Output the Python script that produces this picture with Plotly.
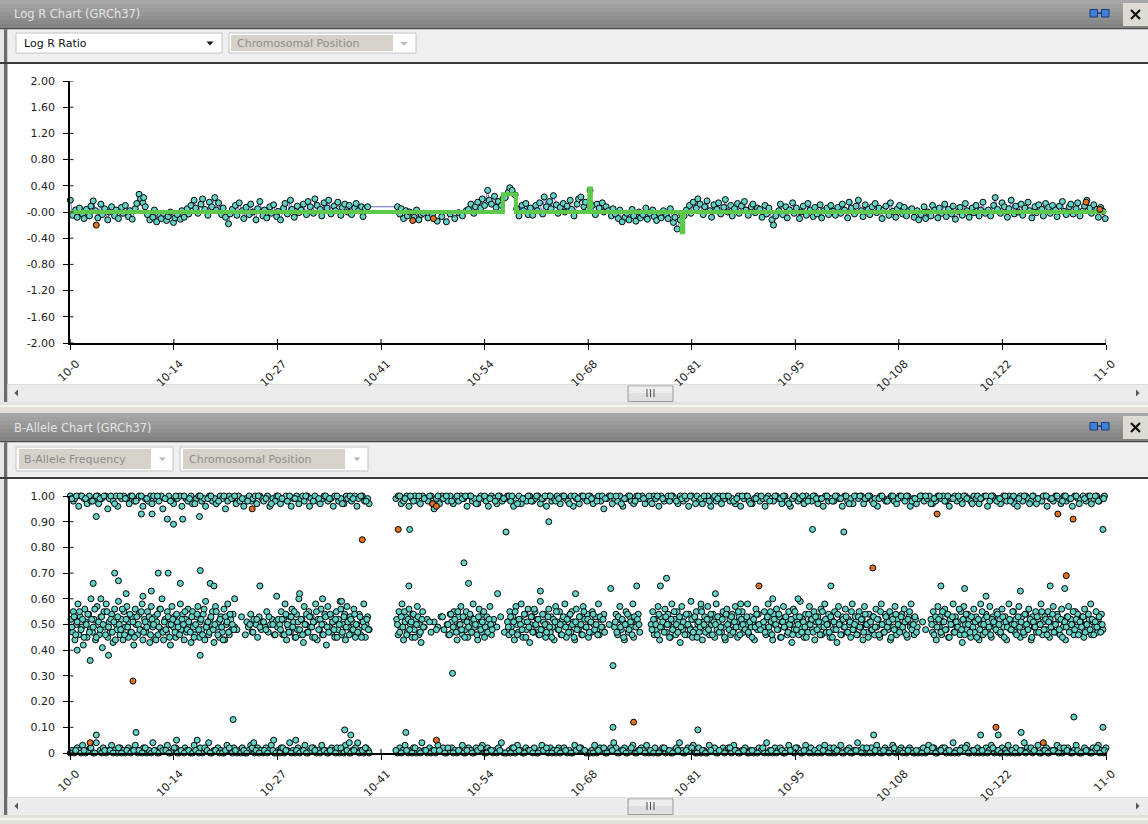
import plotly.graph_objects as go

W, H = 1148, 824

# ---------------- axis ticks ----------------
tick_mb = [0, 13.55, 27.1, 40.65, 54.2, 67.75, 81.3, 94.85, 108.4, 121.95, 135.5]
tick_labels = ["10-0", "10-14", "10-27", "10-41", "10-54", "10-68", "10-81",
               "10-95", "10-108", "10-122", "11-0"]
logr_ticks = [2.0, 1.6, 1.2, 0.8, 0.4, 0.0, -0.4, -0.8, -1.2, -1.6, -2.0]
logr_tick_text = ["2.00", "1.60", "1.20", "0.80", "0.40", "-0.00", "-0.40",
                  "-0.80", "-1.20", "-1.60", "-2.00"]
baf_ticks = [1.0, 0.9, 0.8, 0.7, 0.6, 0.5, 0.4, 0.3, 0.2, 0.1, 0.0]
baf_tick_text = ["1.00", "0.90", "0.80", "0.70", "0.60", "0.50", "0.40",
                 "0.30", "0.20", "0.10", "0"]

# ---------------- Log R data (position: 0.1 Mb units, value: 1/100) ----------------
logr_pos = [
    0,3,7,9,12,16,18,21,25,27,30,33,36,40,42,45,49,51,54,58,60,63,67,69,72,76,78,81,85,87,90,92,95,96,98,
    101,104,108,110,113,117,119,122,126,128,131,135,137,140,144,146,149,153,155,158,162,164,167,171,173,176,180,182,185,189,191,194,198,
    200,203,207,209,212,216,218,221,225,227,230,234,236,239,243,245,248,252,254,257,261,263,266,270,272,275,279,281,284,288,290,293,297,299,
    302,305,309,311,314,318,320,323,327,329,332,336,338,341,345,347,350,354,356,359,363,365,368,372,374,377,381,383,386,389,
    428,431,433,436,439,441,444,450,453,456,459,462,468,474,480,486,492,497,503,508,513,518,
    521,524,528,530,533,537,539,542,546,548,551,555,557,560,564,566,569,573,575,578,582,584,587,591,593,596,599,
    602,605,609,611,614,618,620,623,627,629,632,636,638,641,645,647,650,654,656,659,663,665,668,672,674,677,680,683,687,689,692,696,698,
    701,704,708,710,713,717,719,722,726,728,731,735,737,740,744,746,749,753,755,758,762,764,767,771,773,776,780,782,785,789,791,794,798,800,
    803,806,810,812,815,819,821,824,828,830,833,837,839,842,846,848,851,855,857,860,864,866,869,873,875,878,882,884,887,891,893,896,899,
    902,905,909,911,914,918,920,923,927,929,932,936,938,941,945,947,950,954,956,959,963,965,968,972,974,977,981,983,986,990,992,995,998,
    1001,1004,1008,1010,1013,1017,1019,1022,1026,1028,1031,1035,1037,1040,1044,1046,1049,1053,1055,1058,1062,1064,1067,1071,1073,1076,1080,1082,1085,1089,1091,1094,1097,
    1101,1104,1108,1110,1113,1117,1119,1122,1126,1128,1131,1135,1137,1140,1144,1146,1149,1153,1155,1158,1162,1164,1167,1171,1173,1176,1180,1182,1185,1189,1191,1194,1197,
    1201,1204,1208,1210,1213,1217,1219,1222,1226,1228,1231,1235,1237,1240,1244,1246,1249,1253,1255,1258,
    1262,1264,1267,1271,1273,1276,1280,1282,1285,1289,1291,1294,1298,1300,1303,1307,1309,1312,1316,1318,
    1321,1325,1327,1330,1334,1336,1339,1343,1345,1348,1351,1354,
]
logr_val = [
    18,-5,3,-8,6,-3,-10,4,-6,9,17,2,-9,12,-4,5,-12,0,8,-6,3,-10,7,-2,10,-7,2,-11,5,13,27,20,14,22,8,
    -4,-12,-8,3,-15,-6,-10,-2,-13,-7,0,-16,-9,-4,-11,2,-8,5,-3,10,18,6,-2,12,20,4,-5,15,8,22,3,14,-4,
    6,-8,-18,-3,4,10,-5,14,2,-10,7,-4,12,0,-12,5,16,-6,3,-9,8,-2,11,-7,1,-12,6,13,-3,18,4,-8,9,-1,
    3,12,-4,16,8,-2,20,10,4,-6,14,6,18,-3,9,2,15,-5,7,12,0,10,-4,6,13,2,8,-7,5,8,
    8,-3,5,-10,2,-6,0,-8,3,-12,-4,-2,-9,-5,-14,-7,-15,-3,-10,-1,-6,2,
    4,12,-2,8,15,6,20,10,33,18,12,24,7,16,10,20,22,30,37,33,26,5,-6,10,2,13,-4,
    6,-5,10,2,14,-3,23,8,16,5,25,11,-2,7,13,0,9,18,4,-6,12,20,23,8,15,3,33,10,-4,12,6,14,0,
    8,2,-6,5,-3,-10,3,-15,-8,-2,-12,4,-6,-14,0,-9,-4,6,-11,-2,3,-7,-13,-3,-9,2,-5,-10,5,-16,-8,-26,-12,-4,
    -6,3,10,-2,15,6,20,12,-4,8,17,2,-8,11,4,14,-3,7,19,0,10,-6,5,13,-2,9,16,3,-5,8,12,-1,6,
    4,-8,10,-3,6,-12,-20,-6,2,12,-4,8,-9,3,14,-2,6,-10,0,9,-5,13,3,-7,7,-3,11,-9,2,6,-4,10,1,
    -5,7,-2,12,3,-9,15,6,-3,9,18,2,-7,11,4,-4,8,13,-1,6,-10,3,9,-5,14,1,-8,5,10,-3,7,-6,2,
    5,-8,2,-12,-4,8,-10,0,-6,10,3,-9,6,-2,12,-7,4,-3,9,-11,1,7,-5,13,2,-8,6,-1,10,-6,3,15,-2,
    3,-6,10,22,4,-2,14,8,-8,5,18,-3,9,0,12,-5,6,15,2,-9,
    8,-1,11,4,-6,13,7,-2,10,3,-7,9,16,1,-4,8,12,-3,5,14,
    -6,2,9,18,6,-2,11,4,-8,7,1,-10,
]
logr_orange_pos = [34, 448, 475, 1329, 1347]
logr_orange_val = [-20, -13, -10, 15, 4]

# segmentation (green line), Mb
seg_start_mb = [0.0, 56.6, 58.3, 67.9, 68.1, 80.0, 80.2]
seg_mean = [0.0, 0.27, 0.0, 0.36, 0.0, -0.31, 0.0]
chrom_end_mb = 135.5

# ---------------- B-allele data (position: 0.1 Mb units, value: 1/100) ----------------
top_pos = [
    0,4,6,11,13,18,22,25,27,32, 36,37,41,46,49,51,56,60,62,67, 70,74,77,79,84,88,90,95,98,102,
    105,107,112,116,119,121,126,129,133,135, 140,144,146,151,154,158,160,165,168,172,
    175,177,182,186,189,191,196,199,203,206, 208,213,217,220,222,227,230,234,237,239,
    244,248,251,253,258,261,265,268,270,275, 279,282,284,289,292,296,299,301,306,310,
    313,315,320,323,327,330,332,337,341,344, 346,351,354,358,361,363,368,372,375,377, 382,385,389,391,
    426,429,433,436,440,443,447,451,454,458, 461,465,468,472,476,479,483,486,490,494,
    497,501,504,508,511,515,519,522,526,529, 533,537,540,544,547,551,554,558,562,565,
    569,572,576,580,583,587,590,594,597,601, 605,608,612,615,619,623,626,630,633,637,
    641,644,648,651,655,658,662,666,669,673, 676,680,684,687,691,694,698,702,705,709,
    712,716,719,723,727,730,734,737,741,745, 748,752,755,759,763,766,770,773,777,780,
    784,788,791,795,798,802,806,809,813,816, 820,823,827,831,834,838,841,845,849,852,
    856,859,863,866,870,874,877,881,884,888, 892,895,899,902,906,909,913,917,920,924,
    927,931,935,938,942,945,949,952,956,960, 963,967,970,974,978,981,985,988,992,995,
    999,1003,1006,1010,1013,1017,1021,1024,1028,1031, 1035,1038,1042,1046,1049,1053,1056,1060,1064,1067,
    1071,1074,1078,1081,1085,1089,1092,1096,1099,1103, 1107,1110,1114,1117,1121,1124,1128,1132,1135,1139,
    1142,1146,1150,1153,1157,1160,1164,1167,1171,1175, 1178,1182,1185,1189,1192,1196,1200,1203,1207,1210,
    1214,1217,1221,1225,1228,1232,1235,1239,1243,1246, 1250,1253,1257,1260,1264,1268,1271,1275,1278,1282,
    1286,1289,1293,1296,1300,1303,1307,1311,1314,1318, 1321,1325,1329,1332,1336,1339,1343,1346,1350,1353,
]
top_val = [
    100,98,99,96,100,99,97,100,98,99, 100,97,99,100,95,99,98,100,96,99, 100,99,97,100,98,99,100,96,99,98,
    100,97,99,98,100,95,99,100,98,97, 99,100,96,99,98,100,97,99,100,98,
    99,96,100,98,99,97,100,99,95,98, 100,99,97,100,98,96,99,100,98,99,
    97,100,99,98,100,96,99,98,100,97, 99,100,98,96,99,100,97,99,98,100,
    96,99,100,98,97,99,100,98,99,96, 100,98,99,97,100,99,98,100,96,99, 100,98,99,97,
    99,100,97,98,100,96,99,100,98,97, 100,99,98,100,95,99,97,100,99,98,
    100,97,99,98,100,99,96,100,98,99, 97,100,99,98,96,100,99,97,100,98,
    99,100,98,96,99,100,97,99,98,100, 98,99,100,97,99,96,100,98,99,100,
    97,100,99,98,100,96,99,97,100,99, 98,100,97,99,100,98,95,99,100,97,
    99,98,100,96,99,100,98,97,100,99, 100,97,99,98,100,99,96,100,98,99,
    98,100,99,97,100,98,99,96,100,99, 100,98,97,99,100,96,99,98,100,97,
    99,100,98,99,97,100,96,99,100,98, 97,99,100,98,99,96,100,99,98,100,
    99,97,100,98,96,99,100,98,99,97, 100,99,98,100,97,99,96,100,98,99,
    98,100,99,96,100,98,99,97,100,99, 100,97,99,100,98,99,96,100,99,98,
    99,100,98,97,100,99,98,100,96,99, 97,99,100,98,99,100,97,98,100,99,
    100,98,96,99,100,98,99,97,100,99, 98,100,99,97,99,100,96,98,100,99,
    99,97,100,98,100,99,97,96,100,98, 100,99,98,100,97,99,98,100,96,99,
    98,100,99,97,100,98,99,96,100,99, 99,100,98,100,97,99,100,98,99,100,
]
top2_pos = [
    2,8,15,20,29,34,39,44,53,58, 65,72,81,86,93,100,109,114,124,131,
    138,149,156,163,170,180,184,194,201,211, 215,225,232,242,246,256,263,272,277,287,
    294,304,308,318,325,334,339,349,356,366, 370,380,387,
    431,438,445,449,456,463,470,474,481,488, 492,499,506,513,517,524,531,535,542,549,
    556,560,567,574,578,585,592,599,603,610, 617,621,628,635,639,646,653,660,664,671,
    678,682,689,696,700,707,714,721,725,732, 739,743,750,757,761,768,775,782,786,793,
    800,804,811,818,825,829,836,843,847,854, 861,868,872,879,886,890,897,904,911,915,
    922,929,933,940,947,954,958,965,972,976, 983,990,997,1001,1008,1015,1019,1026,1033,1040,
    1044,1051,1058,1062,1069,1076,1083,1087,1094,1101, 1105,1112,1119,1126,1130,1137,1144,1148,1155,1162,
    1169,1173,1180,1187,1191,1198,1205,1212,1216,1223, 1230,1234,1241,1248,1255,1259,1266,1273,1277,1284,
    1291,1298,1302,1309,1316,1320,1327,1334,1341,1345, 1352,
]
top2_val = [
    99,100,100,99,98,100,99,100,100,97, 100,99,100,98,100,99,100,100,99,98,
    100,100,99,97,100,99,100,98,100,99, 100,99,98,100,100,99,97,100,99,100,
    99,100,100,98,99,100,99,100,97,100, 99,100,98,
    100,99,100,98,100,99,100,97,100,99, 100,98,100,99,100,100,97,99,100,99,
    98,100,99,100,100,97,99,100,98,100, 99,100,100,98,99,100,97,100,99,100,
    100,99,98,100,99,100,100,97,99,100, 98,100,99,100,97,100,99,100,100,98,
    99,100,100,97,99,100,98,100,99,100, 100,98,99,100,100,97,99,100,99,98,
    100,99,100,97,100,99,100,98,100,99, 99,100,98,100,99,100,97,100,100,99,
    100,97,99,100,98,100,99,100,100,98, 99,100,100,97,99,100,98,100,99,100,
    100,99,97,100,99,100,100,98,99,100, 98,100,99,100,97,100,99,100,100,99,
    100,98,100,99,100,97,99,100,100,98, 99,
]
low_pos = [
    2,5,9,12,16,20,23,26,30,34, 39,43,47,50,54,58,61,65,69,72, 76,81,85,88,92,96,100,103,108,111,
    114,118,123,127,131,134,138,142,147,150, 153,157,162,166,170,173,178,181,185,188,
    193,197,201,205,210,214,218,221,225,229, 233,236,241,245,249,252,256,260,263,267,
    272,276,280,284,287,291,294,298,303,307, 311,314,318,322,325,329,334,338,342,345,
    349,352,356,360,365,369,373,376,380,384, 387,390,
    428,431,435,438,442,445,449,453,456,460, 463,467,470,474,478,481,485,488,492,496,
    499,503,506,510,513,517,521,524,528,531, 535,539,542,546,549,553,556,560,564,567,
    571,574,578,582,585,589,592,596,599,603, 607,610,614,617,621,625,628,632,635,639,
    643,646,650,653,657,660,664,668,671,675, 678,682,686,689,693,696,700,704,707,711,
    714,718,721,725,729,732,736,739,743,747, 750,754,757,761,765,768,772,775,779,782,
    786,790,793,797,800,804,808,811,815,818, 822,825,829,833,836,840,843,847,851,854,
    858,861,865,868,872,876,879,883,886,890, 894,897,901,904,908,911,915,919,922,926,
    929,933,937,940,944,947,951,954,958,962, 965,969,972,976,980,983,987,990,994,997,
    1001,1005,1008,1012,1015,1019,1023,1026,1030,1033, 1037,1040,1044,1048,1051,1055,1058,1062,1066,1069,
    1073,1076,1080,1083,1087,1091,1094,1098,1101,1105, 1109,1112,1116,1119,1123,1126,1130,1134,1137,1141,
    1144,1148,1152,1155,1159,1162,1166,1169,1173,1177, 1180,1184,1187,1191,1194,1198,1202,1205,1209,1212,
    1216,1219,1223,1227,1230,1234,1237,1241,1245,1248, 1252,1255,1259,1262,1266,1270,1273,1277,1280,1284,
    1288,1291,1295,1298,1302,1305,1309,1313,1316,1320, 1323,1327,1331,1334,1338,1341,1345,1348,1352,1355,
]
low_val = [
    1,0,2,1,3,0,1,2,0,4, 1,2,0,1,3,1,0,2,1,0, 2,1,3,0,1,2,0,1,4,1,
    0,2,1,3,0,1,2,0,1,2, 1,0,3,1,2,0,1,4,0,1,
    2,1,0,3,1,2,0,1,2,0, 1,3,0,2,1,0,2,1,3,0,
    1,2,0,1,4,1,0,2,1,3, 0,1,2,0,1,3,1,0,2,1,
    2,0,1,3,0,1,2,4,1,0, 2,1,
    0,2,1,3,0,1,2,0,1,4, 1,0,2,1,0,3,1,2,0,1,
    2,1,0,1,3,0,2,1,0,2, 1,3,0,2,1,0,1,2,4,0,
    0,1,2,0,3,1,0,2,1,1, 2,0,1,3,1,0,2,1,0,2,
    1,2,0,1,0,3,1,2,1,0, 0,1,3,0,2,1,0,1,2,4,
    2,0,1,2,0,1,3,0,1,2, 1,3,0,1,2,0,1,2,0,1,
    0,1,2,4,1,0,2,1,3,0, 2,0,1,0,3,1,2,0,1,2,
    1,2,0,3,1,0,1,2,0,1, 0,1,2,1,0,4,1,0,2,1,
    2,0,1,3,1,0,2,1,0,3, 1,2,0,1,2,0,3,1,2,0,
    0,1,3,0,1,2,0,1,4,1, 2,0,1,2,0,3,1,0,2,1,
    1,3,0,1,2,1,0,2,1,0, 0,1,2,0,3,1,2,0,1,2,
    2,1,0,4,1,0,2,1,3,0, 1,0,2,1,0,2,1,3,0,1,
    0,2,1,3,0,1,2,0,1,4, 2,1,0,1,3,0,1,2,0,1,
    1,3,2,0,1,2,0,1,3,0, 0,2,1,0,2,1,3,1,0,2,
]
low2_pos = [
    0,7,14,18,27,32,41,45,52,56, 63,67,74,79,83,90,94,98,106,110,
    116,121,125,129,136,140,145,149,155,160, 164,168,176,179,183,190,195,199,203,208,
    212,216,223,227,231,238,243,247,254,258, 265,269,274,278,282,289,296,300,305,309,
    316,320,327,332,336,340,347,354,358,362, 367,371,378,382,386,391,
    426,433,440,447,451,458,465,472,476,483, 490,494,501,508,515,519,526,533,537,544,
    551,558,562,569,576,580,587,594,601,605, 612,619,623,630,637,641,648,655,662,666,
    673,680,684,691,698,702,709,716,723,727, 734,741,745,752,759,763,770,777,784,788,
    795,802,806,813,820,827,831,838,845,849, 856,863,870,874,881,888,892,899,906,913,
    917,924,931,935,942,949,956,960,967,974, 978,985,992,999,1003,1010,1017,1021,1028,1035,
    1042,1046,1053,1060,1064,1071,1078,1085,1089,1096, 1103,1107,1114,1121,1128,1132,1139,1146,1150,1157,
    1164,1171,1175,1182,1189,1193,1200,1207,1214,1218, 1225,1232,1236,1243,1250,1257,1261,1268,1275,1279,
    1286,1293,1300,1304,1311,1318,1322,1329,1336,1343, 1347,1353,
]
low2_val = [
    0,1,0,1,2,0,0,1,1,0, 2,0,1,0,1,1,0,2,0,1,
    0,1,1,0,2,0,1,0,1,0, 1,0,2,1,0,1,0,0,1,2,
    0,1,0,1,0,2,1,0,1,0, 1,0,0,2,1,0,1,0,1,0,
    2,1,0,1,0,1,0,2,0,1, 0,1,0,1,2,0,
    1,0,1,0,2,0,1,0,1,1, 0,2,0,1,0,1,0,1,2,0,
    1,0,1,0,0,2,1,0,1,0, 0,1,2,0,1,0,1,0,1,2,
    1,0,0,1,2,0,1,0,1,0, 2,0,1,0,1,0,0,2,1,0,
    1,0,1,2,0,1,0,1,0,1, 0,2,1,0,1,0,1,0,2,0,
    1,0,1,0,1,2,0,1,0,1, 0,1,0,2,1,0,1,0,1,0,
    2,0,1,0,1,0,2,1,0,1, 0,1,0,1,2,0,1,0,1,0,
    1,2,0,1,0,1,0,2,1,0, 0,1,0,1,0,2,1,0,1,0,
    1,0,2,1,0,1,0,1,0,2, 0,1,
]
mid_pos = [
    1,3,4,6,8,10,11,13,15,17, 19,20,22,24,26,27,29,31,33,35, 36,38,40,42,44,45,47,49,51,52,
    54,56,58,60,61,63,65,67,69,70, 72,74,76,77,79,81,83,85,86,88, 90,92,94,95,97,99,101,102,104,106,
    108,110,111,113,115,117,119,120,122,124, 126,127,129,131,133,135,136,138,140,142,
    144,145,147,149,151,152,154,156,158,160, 161,163,165,167,169,170,172,174,176,177,
    179,181,183,185,186,188,190,192,194,195, 197,199,201,202,204,206,208,210,211,213, 215,
    218,224,229,231,233,236,238,240,243,245, 247,250,252,255,257,259,262,264,267,269, 271,
    274,276,278,279,281,283,285,287,288,290, 292,294,296,297,299,301,303,305,306,308,
    310,312,314,315,317,319,321,323,324,326, 328,330,332,333,335,337,339,341,342,344,
    346,348,350,351,353,355,357,359,360,362, 364,366,368,369,371,373,375,377,378,380,
    382,384,386,387,389,391,
    427,429,430,432,434,436,438,439,441,443, 445,447,448,450,452,454,456,457,459,461,
    463,467,472,476,481,485,489,493,495,497, 499,500,502,504,506,508,509,511,513,515,
    517,518,520,522,524,526,527,529,531,533, 535,536,538,540,542,544,545,547,549,551, 553,554,
    558,563,568,
    572,574,575,577,579,581,583,584,586,588, 590,592,593,595,597,599,601,602,604,606,
    608,610,611,613,615,617,619,620,622,624, 626,628,629,631,633,635,637,638,640,642,
    644,646,647,649,651,653,655,656,658,660, 662,664,665,667,669,671,673,674,676,678,
    680,682,683,685,687,689,691,692,694,696, 698,
    705,
    712,714,716,718,719,721,723,725,727,728, 730,732,734,736,737,739,741,743,745,
    760,762,764,765,767,769,771,773,774,776, 778,780,782,783,785,787,789,791,792,794,
    796,798,800,801,803,805,807,809,810,812, 814,816,818,819,821,823,825,827,828,830,
    832,834,836,837,839,841,843,845,846,848, 850,852,854,855,857,859,861,863,864,866,
    868,870,872,873,875,877,879,881,882,884, 886,888,890,891,893,895,897,899,900,902,
    906,908,910,911,913,915,917,919,920,922, 924,926,928,929,931,933,935,937,938,940,
    942,944,946,947,949,951,953,955,956,958, 960,962,964,965,967,969,971,973,974,976,
    978,980,982,983,985,987,989,991,992,994, 996,998,1000,1001,1003,1005,1007,1009,1010,1012,
    1014,1016,1018,1019,1021,1023,1025,1027,1028,1030, 1032,1034,1036,1037,1039,1041,1043,1045,1046,1048,
    1050,1052,1054,1055,1057,1059,1061,1063,1064,1066, 1068,1070,1072,1073,1075,1077,1079,1081,1082,1084,
    1086,1088,1090,1091,1093,1095,1097,1099,1100,1102, 1104,1106,1108,
    1115,1119,
    1126,1128,1129,1131,1133,1135,1137,1138,1140,1142, 1144,1146,1147,1149,1151,1153,1155,1156,1158,1160,
    1162,1164,1165,1167,1169,1171,1173,1174,1176,1178, 1180,1182,1183,1185,1187,1189,1191,1192,1194,1196,
    1198,1200,1201,1203,1205,1207,1209,1210,1212,1214, 1216,1218,1219,1221,1223,1225,1227,1228,1230,1232,
    1234,1236,1237,1239,1241,1243,1245,1246,1248,1250, 1252,1254,1255,1257,1259,1261,1263,1264,1266,1268,
    1270,1272,1273,1275,1277,1279,1281,1282,1284,1286, 1288,1290,1291,1293,1295,1297,1299,1300,1302,1304,
    1306,1308,1309,1311,1313,1315,1317,1318,1320,1322, 1324,1326,1327,1329,1331,1333,1335,1336,1338,1340,
    1342,1344,1345,1347,1349,1351,
]
mid_val = [
    52,47,55,44,50,58,46,53,49,42, 56,51,45,54,48,60,47,52,44,57, 50,46,53,41,55,49,58,45,51,47,
    54,43,56,50,48,59,46,52,44,55, 49,57,45,51,47,53,42,56,50,46, 54,48,58,44,52,47,55,50,43,57,
    49,45,53,51,46,56,48,60,44,52, 47,55,50,42,57,49,53,45,51,46,
    58,48,54,44,52,47,56,50,43,55, 49,46,53,57,45,51,48,54,44,59,
    50,46,52,48,55,43,57,49,51,45, 53,47,56,44,50,58,46,52,48,54, 49,
    48,53,46,51,49,54,47,52,50,45, 53,48,51,49,55,47,50,52,46,51, 49,
    50,55,46,52,58,44,49,53,47,56, 51,45,54,48,60,46,52,43,57,50,
    47,55,49,53,45,51,58,44,52,48, 56,46,50,54,42,57,49,53,47,51,
    45,55,48,52,59,46,50,54,44,57, 49,53,47,51,56,45,50,48,54,46,
    52,58,45,50,53,48,
    52,46,55,49,58,44,51,53,47,56, 50,45,54,48,52,57,46,50,43,55,
    49,52,47,51,49,53,48,50,46,54, 51,47,55,49,44,53,50,57,46,52,
    48,55,45,51,53,47,58,49,52,44, 56,50,47,54,45,51,53,48,57,46, 50,52,
    49,53,47,
    51,46,55,49,53,44,57,50,47,52, 58,45,51,54,48,56,43,50,53,47,
    55,49,52,46,59,48,51,54,45,50, 56,47,53,49,44,57,51,48,55,46,
    52,50,58,45,53,49,47,55,51,44, 56,50,48,53,46,57,52,49,54,45,
    51,47,55,50,53,48,58,46,52,49, 54,
    50,
    49,54,46,52,57,48,51,44,55,50, 47,53,49,58,45,52,50,54,47,
    50,55,46,52,48,57,44,53,49,51, 56,47,54,50,45,58,49,52,46,55,
    51,43,57,48,53,50,46,54,49,59, 45,52,48,55,50,47,56,44,51,53,
    49,57,46,52,50,54,45,58,48,51, 53,47,55,49,44,56,50,52,46,54,
    48,57,51,45,53,49,55,47,52,50, 58,46,53,49,51,44,56,48,54,50,
    49,55,46,52,58,47,51,44,54,50, 56,48,53,45,51,57,49,52,46,55,
    50,43,56,48,53,51,46,59,49,52, 45,54,50,47,57,52,48,55,44,51,
    53,49,56,46,51,58,47,50,54,45, 52,48,55,50,43,57,51,46,53,49,
    56,47,52,50,45,58,48,53,51,46, 55,49,52,44,57,50,47,54,51,48,
    53,46,56,49,52,45,58,50,47,54, 51,48,55,44,53,49,57,46,52,50,
    48,54,47,56,51,45,53,49,58,50, 46,52,49,
    51,48,
    52,47,55,50,44,57,49,53,46,51, 56,48,54,45,52,50,58,47,53,49,
    51,46,55,43,57,50,48,54,52,45, 49,56,47,53,51,44,58,50,46,52,
    54,48,51,57,45,53,49,50,55,47, 52,46,56,49,53,44,51,58,48,50,
    55,47,52,49,57,45,53,50,46,54, 48,56,51,44,53,49,55,47,52,50,
    58,46,51,53,48,55,45,52,49,57, 50,47,54,52,46,56,49,51,44,53,
    57,48,52,50,46,55,49,54,47,51, 53,45,56,50,48,52,58,46,51,49,
    55,47,52,50,54,48,
]
mid2_pos = [
    2,5,7,9,12,14,16,18,21,23, 25,28,30,32,34,37,39,41,43,46, 48,50,53,55,57,59,62,64,66,68,
    71,73,75,78,80,82,84,87,89,91, 93,96,98,100,103,105,107,109,112,114, 116,118,121,123,125,128,130,132,134,137,
    139,141,143,146,148,150,153,155,157,159, 162,164,166,168,171,173,175,178,180,182,
    184,187,189,191,193,196,198,200,203,205, 207,209,212,214,
    235,239,244,248,253,256,260,265,268,272,
    275,277,280,282,284,286,289,291,293,295, 298,300,302,304,307,309,311,313,316,318,
    320,322,325,327,329,331,334,336,338,340, 343,345,347,349,352,354,356,358,361,363,
    365,367,370,372,374,376,379,381,383,385, 388,390,
    428,431,433,435,437,440,442,444,446,449, 451,453,455,458,460,462, 470,479,487,494,
    496,498,501,503,505,507,510,512,514,516, 519,521,523,525,528,530,532,534,537,539,
    541,543,546,548,550,552,
    573,576,578,580,582,585,587,589,591,594, 596,598,600,603,605,607,609,612,614,616,
    618,621,623,625,627,630,632,634,636,639, 641,643,645,648,650,652,654,657,659,661,
    663,666,668,670,672,675,677,679,681,684, 686,688,690,693,695,697,699,
    713,715,717,720,722,724,726,729,731,733, 735,738,740,742,744,
    761,763,766,768,770,772,775,777,779,781, 784,786,788,790,793,795,797,799,802,804,
    806,808,811,813,815,817,820,822,824,826, 829,831,833,835,838,840,842,844,847,849,
    851,853,856,858,860,862,865,867,869,871, 874,876,878,880,883,885,887,889,892,894,
    896,898,901,903,
    907,909,912,914,916,918,921,923,925,927, 930,932,934,936,939,941,943,945,948,950,
    952,954,957,959,961,963,966,968,970,972, 975,977,979,981,984,986,988,990,993,995,
    997,999,1002,1004,1006,1008,1011,1013,1015,1017, 1020,1022,1024,1026,1029,1031,1033,1035,1038,1040,
    1042,1044,1047,1049,1051,1053,1056,1058,1060,1062, 1065,1067,1069,1071,1074,1076,1078,1080,1083,1085,
    1087,1089,1092,1094,1096,1098,1101,1103,1105,1107,
    1127,1130,1132,1134,1136,1139,1141,1143,1145,1148, 1150,1152,1154,1157,1159,1161,1163,1166,1168,1170,
    1172,1175,1177,1179,1181,1184,1186,1188,1190,1193, 1195,1197,1199,1202,1204,1206,1208,1211,1213,1215,
    1217,1220,1222,1224,1226,1229,1231,1233,1235,1238, 1240,1242,1244,1247,1249,1251,1253,1256,1258,1260,
    1262,1265,1267,1269,1271,1274,1276,1278,1280,1283, 1285,1287,1289,1292,1294,1296,1298,1301,1303,1305,
    1307,1310,1312,1314,1316,1319,1321,1323,1325,1328, 1330,1332,1334,1337,1339,1341,1343,1346,1348,1350,
]
mid2_val = [
    49,53,46,51,55,48,52,45,50,54, 47,52,49,56,45,51,48,53,50,46, 55,49,52,47,51,44,53,50,48,56,
    46,52,49,54,47,51,45,53,50,48, 55,47,51,49,53,46,52,50,44,54, 49,56,47,51,48,53,45,50,52,47,
    54,49,46,52,50,55,48,51,47,53, 45,50,54,48,52,46,56,49,51,47,
    53,48,50,55,46,52,49,44,53,51, 47,54,50,48,
    50,47,52,49,51,48,53,50,46,52,
    48,52,46,54,50,47,53,49,55,45, 51,48,52,46,50,54,47,53,49,51,
    45,55,48,52,50,46,53,49,47,54, 51,48,52,45,50,56,47,53,49,51,
    46,52,48,54,50,47,53,45,51,49, 52,48,
    50,47,53,49,55,46,52,48,51,54, 45,50,53,47,52,49, 51,48,53,50,
    46,54,49,52,47,55,50,48,53,45, 51,49,54,47,52,50,46,53,48,51,
    55,49,47,52,50,48,
    49,53,47,51,55,46,52,50,48,54, 45,51,49,53,47,56,50,52,46,48,
    54,50,47,53,49,45,52,51,55,48, 50,46,53,49,52,47,54,50,45,51,
    48,53,50,46,55,49,52,47,51,54, 48,50,46,53,49,52,47,
    51,47,53,49,52,45,50,54,48,51, 46,53,49,52,50,
    48,52,50,46,54,49,51,47,53,50, 45,52,48,55,50,47,53,49,51,46,
    54,50,48,52,47,53,45,51,49,55, 50,47,52,48,54,46,51,50,53,47,
    49,52,45,54,50,48,53,47,51,49, 55,46,52,50,48,53,47,51,45,52,
    49,54,50,48,
    51,47,53,49,55,46,52,50,48,54, 45,51,49,53,47,50,52,46,55,48,
    50,53,47,51,49,45,54,50,52,47, 53,48,51,46,55,49,52,50,47,53,
    45,51,48,54,50,46,52,49,53,47, 51,55,48,50,46,53,49,52,47,54,
    50,45,51,48,53,49,52,46,55,50, 47,53,49,51,45,52,48,54,50,47,
    53,49,51,46,52,55,48,50,53,47,
    50,46,53,49,52,47,55,51,48,54, 45,50,53,47,51,49,56,48,52,46,
    54,50,47,53,49,51,45,52,48,55, 50,47,53,49,46,52,51,48,54,50,
    47,53,45,51,49,52,48,55,50,46, 53,49,51,47,54,50,48,52,45,51,
    49,53,47,50,55,48,52,46,51,49, 54,47,50,53,48,52,45,51,49,53,
    47,50,55,48,52,46,51,49,53,47, 50,54,48,52,46,51,49,53,47,50,
]
baf_out_pos = [9, 26, 30, 34, 40, 50, 58, 63, 73, 93, 95, 106, 107, 115, 127, 128, 135, 144, 147, 169,
               170, 170, 183, 188, 215, 248, 270, 300, 330, 355, 443, 444, 500, 515, 521, 559, 570, 615, 626, 661,
               707, 710, 741, 772, 780, 825, 844, 877, 919, 952, 971, 995, 1012, 1139, 1170, 1198, 1243, 1282, 1301, 1351,
               34, 86, 139, 166, 213, 240, 266, 295, 359, 365, 367, 439, 710, 821, 1051, 1191, 1214, 1244, 1313, 1351]
baf_out_val = [40, 36, 66, 92, 60, 38, 70, 67, 62, 93, 61, 63, 93, 70, 91, 70, 89, 66, 91, 92,
               71, 38, 66, 65, 60, 65, 61, 62, 60, 59, 65, 87, 31, 74, 66, 62, 86, 63, 90, 62,
               64, 34, 65, 65, 68, 58, 62, 58, 60, 60, 87, 65, 86, 65, 64, 61, 63, 65, 64, 87,
               7, 8, 5, 5, 13, 4, 5, 5, 9, 4, 7, 8, 10, 9, 7, 7, 7, 8, 14, 10]
baf_orange_pos = [26, 82, 238, 382, 429, 474, 479, 479, 737, 901, 1050, 1134, 1211, 1273, 1292, 1303, 1312]
baf_orange_val = [4, 28, 95, 83, 87, 97, 96, 5, 12, 65, 72, 93, 10, 4, 93, 69, 91]

# ---------------- styling ----------------
CYAN = "#62d3c9"
ORANGE = "#e2701c"
GREEN = "#5ec84a"
FONT = "DejaVu Sans"

PX0, PX1 = 70.3, 1106.0       # plot x extent (px)
TOP_Y0, TOP_Y1 = 81.0, 343.0  # logR plot y extent (px)
BOT_Y0, BOT_Y1 = 496.0, 753.0 # BAF plot y extent (px)

shapes = []
annotations = []


def fx(x):
    return x / W


def fy(y):
    return 1 - y / H


def rect(x0, y0, x1, y1, fill, line_color=None, lw=0):
    shapes.append(dict(type="rect", xref="paper", yref="paper", layer="below",
                       x0=fx(x0), x1=fx(x1), y0=fy(y1), y1=fy(y0), fillcolor=fill,
                       line=dict(color=line_color or fill, width=lw)))


def seg(x0, y0, x1, y1, color, lw=1, layer="below"):
    shapes.append(dict(type="line", xref="paper", yref="paper", layer=layer,
                       x0=fx(x0), x1=fx(x1), y0=fy(y0), y1=fy(y1),
                       line=dict(color=color, width=lw)))


def tri(pts, fill):
    path = "M " + " L ".join(f"{fx(a):.5f},{fy(b):.5f}" for a, b in pts) + " Z"
    shapes.append(dict(type="path", xref="paper", yref="paper", layer="below",
                       path=path, fillcolor=fill, line=dict(color=fill, width=0)))


def text(x, y, s, size, color, anchor="left"):
    annotations.append(dict(x=fx(x), y=fy(y), xref="paper", yref="paper", text=s,
                            showarrow=False, xanchor=anchor, yanchor="middle",
                            font=dict(family=FONT, size=size, color=color)))


def panel(oy, title, plot_bottom, scroll_bottom, bottom_end):
    grad = ["#a7a7a7", "#a1a1a1", "#9b9b9b", "#959595", "#8f8f8f", "#898989", "#838383"]
    for i, c in enumerate(grad):
        rect(0, oy + 4 * i, W, oy + 4 * i + 4.2, c)
    rect(0, oy + 28, W, oy + 29.5, "#4a4a4a")
    text(12, oy + 14.5, title, 11.5, "#e4e4e4")
    rect(1090, oy + 9.5, 1097.5, oy + 17, "#3f80d8", "#1c3b78", 1)
    rect(1101.5, oy + 9.5, 1109, oy + 17, "#3f80d8", "#1c3b78", 1)
    seg(1097.5, oy + 13.2, 1101.5, oy + 13.2, "#1c3b78", 1.5)
    rect(1123, oy + 3, 1148, oy + 26, "#dedbd4")
    seg(1131, oy + 10, 1140, oy + 19, "#111111", 2.2)
    seg(1140, oy + 10, 1131, oy + 19, "#111111", 2.2)
    scroll_top = plot_bottom
    rect(7, oy + 64, W, scroll_top, "#ffffff")
    rect(0, oy + 29.5, 4, bottom_end, "#e6e6e6")
    rect(4, oy + 29.5, 7.5, scroll_bottom, "#6c6c6c")
    rect(7.5, scroll_top, W, scroll_bottom, "#ececec")
    rect(7.5, scroll_top, W, scroll_top + 1, "#dddddd")
    mid = (scroll_top + scroll_bottom) / 2
    tri([(18, mid - 3.5), (18, mid + 3.5), (14.5, mid)], "#555555")
    tri([(1136, mid - 3.5), (1136, mid + 3.5), (1139.5, mid)], "#555555")
    rect(628, scroll_top + 2, 673, scroll_bottom - 0.5, "#e0e0e0", "#9c9c9c", 1)
    rect(629, scroll_top + 2.5, 672, mid, "#eeeeee")
    for gx in (647, 650.5, 654):
        seg(gx, mid - 4, gx, mid + 4, "#4c4c4c", 1)
    rect(0, scroll_bottom, W, bottom_end, "#e4e1da")
    rect(0, scroll_bottom + 3, W, scroll_bottom + 5, "#f5f4f0")


# top panel chrome
panel(0, "Log R Chart (GRCh37)", 384, 402, 413)
rect(7.5, 29.5, W, 62, "#efefef")
rect(0, 62, W, 64, "#3c3c3c")
rect(16, 33, 222, 53, "#ffffff", "#c4c4c4", 1)
text(22, 43.5, "Log R Ratio", 11, "#111111")
tri([(206.5, 41.5), (213.5, 41.5), (210, 45.5)], "#111111")
rect(229, 33, 416, 53, "#ffffff", "#c4c4c4", 1)
rect(231, 35, 393, 51, "#d6d2ca")
text(235, 43.5, "Chromosomal Position", 11, "#8c8c8c")
tri([(400.5, 42), (407.5, 42), (404, 45.5)], "#b5b5b5")

# bottom panel chrome
panel(413, "B-Allele Chart (GRCh37)", 797, 815, 824)
rect(7.5, 442.5, W, 477, "#efefef")
rect(0, 477, W, 479, "#3c3c3c")
rect(16, 447, 173, 471, "#ffffff", "#c4c4c4", 1)
rect(19, 449, 151, 469, "#d6d2ca")
text(22, 459, "B-Allele Frequency", 11, "#8c8c8c")
tri([(159, 457.5), (166, 457.5), (162.5, 461)], "#b5b5b5")
rect(180, 447, 368, 471, "#ffffff", "#c4c4c4", 1)
rect(183, 449, 345, 469, "#d6d2ca")
text(187, 459, "Chromosomal Position", 11, "#8c8c8c")
tri([(353.5, 457.5), (360.5, 457.5), (357, 461)], "#b5b5b5")

# inside halves of the crossing tick marks
for xa, ya, yvals, ylen in (("x", "y", logr_ticks, TOP_Y1 - TOP_Y0), ("x2", "y2", baf_ticks, BOT_Y1 - BOT_Y0)):
    for t in tick_mb:
        shapes.append(dict(type="line", xref=xa, yref=ya + " domain", x0=t, x1=t, y0=0, y1=4 / ylen,
                           line=dict(color="black", width=1)))
    for v in yvals:
        shapes.append(dict(type="line", xref=xa + " domain", yref=ya, x0=0, x1=3 / (PX1 - PX0), y0=v, y1=v,
                           line=dict(color="black", width=1)))


def pairs(pos, val):
    n = min(len(pos), len(val))
    return pos[:n], val[:n]


# ---------------- traces ----------------
fig = go.Figure()
mk = dict(size=6, color=CYAN, line=dict(color="black", width=1))

fig.add_trace(go.Scatter(
    x=[p / 10 for p in logr_pos], y=[v / 100 for v in logr_val], mode="lines+markers",
    line=dict(color="#6b6bd6", width=1), marker=mk, xaxis="x", yaxis="y", cliponaxis=False))
fig.add_trace(go.Scatter(
    x=seg_start_mb + [chrom_end_mb], y=seg_mean + [seg_mean[-1]], mode="lines",
    line=dict(color=GREEN, width=4, shape="hv"), xaxis="x", yaxis="y", cliponaxis=False))
fig.add_trace(go.Scatter(
    x=[p / 10 for p in logr_orange_pos], y=[v / 100 for v in logr_orange_val], mode="markers",
    marker=dict(size=6, color=ORANGE, line=dict(color="black", width=1)),
    xaxis="x", yaxis="y", cliponaxis=False))

baf_x, baf_y = [], []
for pos, val in ((mid_pos, mid_val), (mid2_pos, mid2_val), (top_pos, top_val), (top2_pos, top2_val),
                 (low_pos, low_val), (low2_pos, low2_val), (baf_out_pos, baf_out_val)):
    p, v = pairs(pos, val)
    baf_x += [a / 10 for a in p]
    baf_y += [b / 100 for b in v]
fig.add_trace(go.Scatter(x=baf_x, y=baf_y, mode="markers", marker=mk,
                         xaxis="x2", yaxis="y2", cliponaxis=False))
fig.add_trace(go.Scatter(
    x=[p / 10 for p in baf_orange_pos], y=[v / 100 for v in baf_orange_val], mode="markers",
    marker=dict(size=6, color=ORANGE, line=dict(color="black", width=1)),
    xaxis="x2", yaxis="y2", cliponaxis=False))

axis_common = dict(showline=True, linecolor="black", linewidth=2, showgrid=False, zeroline=False,
                   ticks="outside", ticklen=5, tickwidth=1, tickcolor="black", tickmode="array",
                   automargin=False,
                   tickfont=dict(family=FONT, size=11, color="#222222"), fixedrange=True)
xaxis_extra = dict(tickangle=-45, ticklabelshift=6, ticklabelstandoff=3)

fig.update_layout(
    width=W, height=H, margin=dict(l=0, r=0, t=0, b=0, pad=0, autoexpand=False),
    paper_bgcolor="#ececec", plot_bgcolor="rgba(0,0,0,0)",
    showlegend=False, hovermode=False,
    xaxis=dict(domain=[fx(PX0), fx(PX1)], range=[0, chrom_end_mb], anchor="y",
               tickvals=tick_mb, ticktext=tick_labels, **xaxis_extra, **axis_common),
    yaxis=dict(domain=[fy(TOP_Y1), fy(TOP_Y0)], range=[-2, 2], anchor="x",
               tickvals=logr_ticks, ticktext=logr_tick_text, ticklabelstandoff=6, **axis_common),
    xaxis2=dict(domain=[fx(PX0), fx(PX1)], range=[0, chrom_end_mb], anchor="y2",
                tickvals=tick_mb, ticktext=tick_labels, **xaxis_extra, **axis_common),
    yaxis2=dict(domain=[fy(BOT_Y1), fy(BOT_Y0)], range=[0, 1], anchor="x2",
                tickvals=baf_ticks, ticktext=baf_tick_text, ticklabelstandoff=6, **axis_common),
    shapes=shapes, annotations=annotations,
)

fig.write_html("out.html", config={"displayModeBar": False},
               post_script="document.body.style.margin='0';document.body.style.overflow='hidden';")
